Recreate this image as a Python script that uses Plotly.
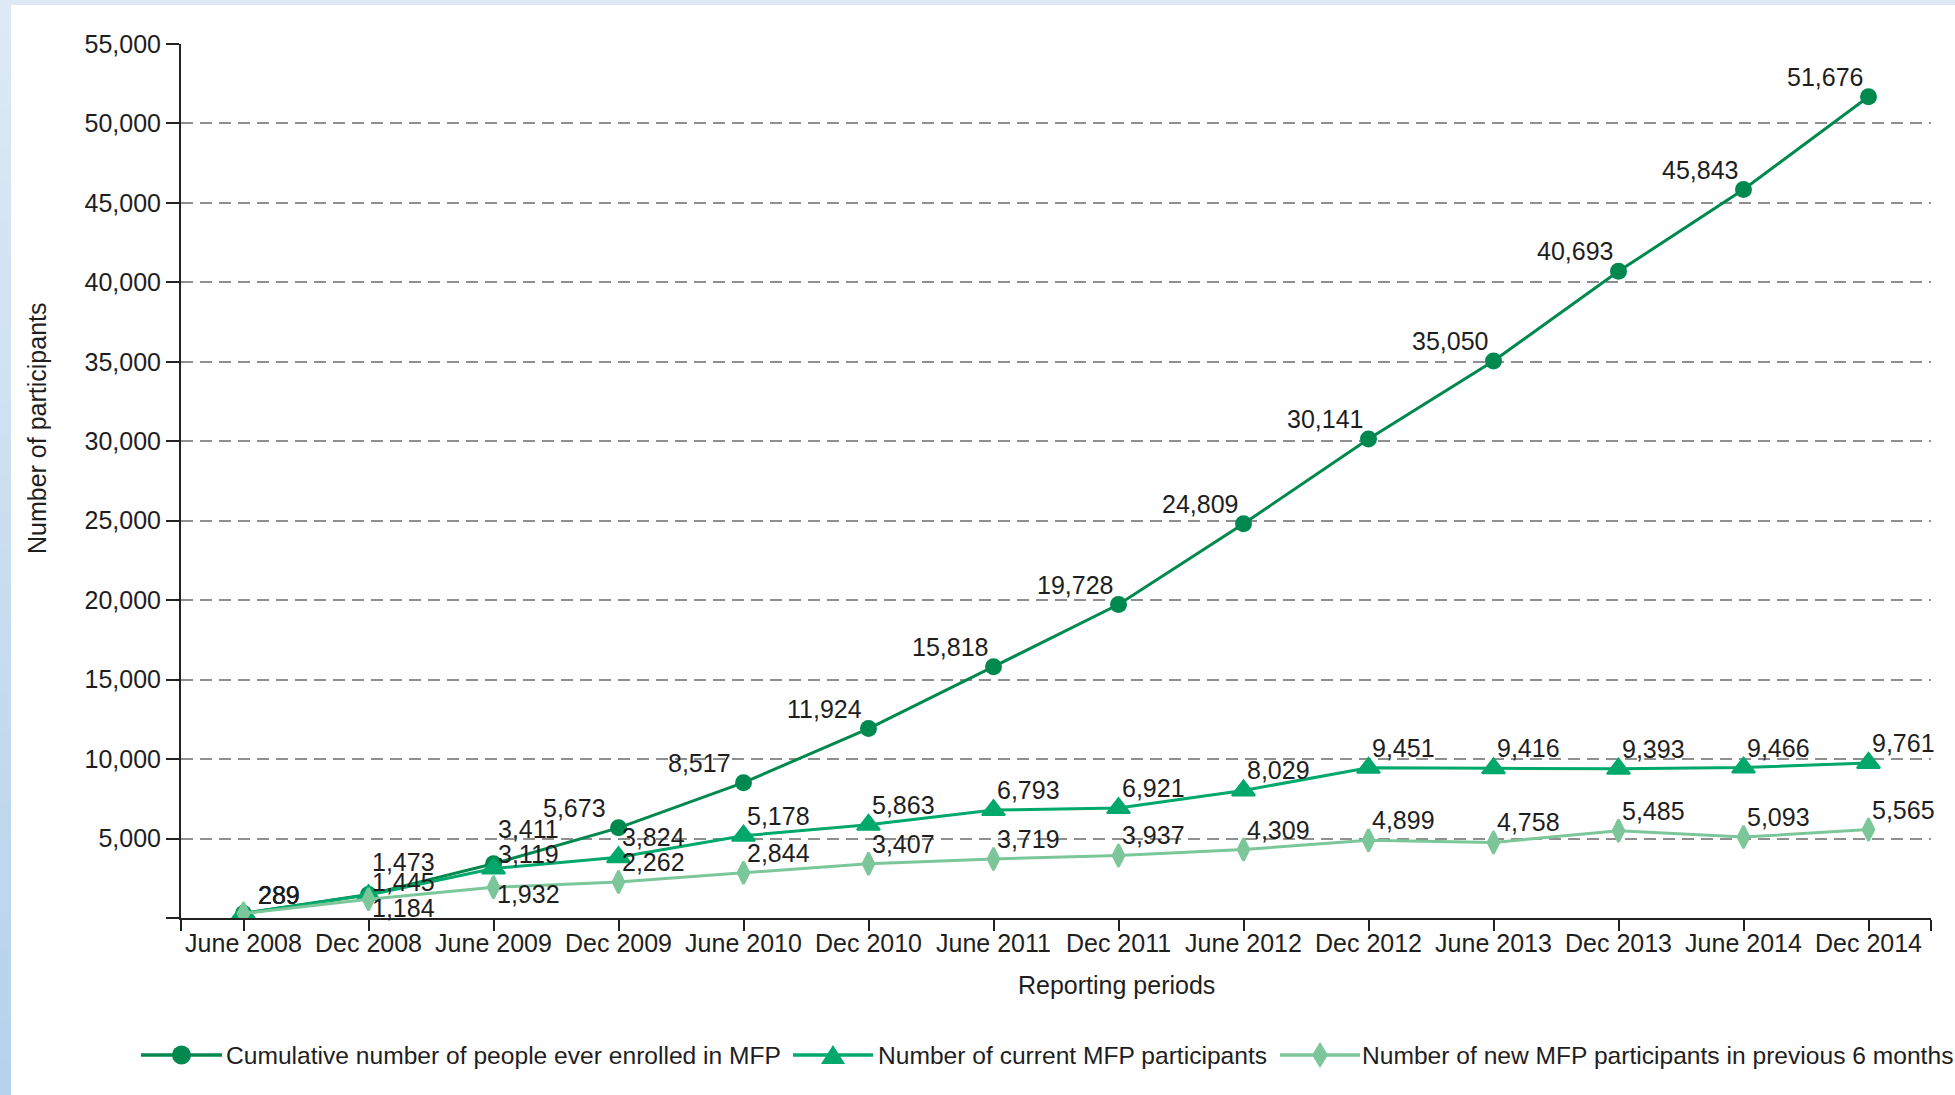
import plotly.graph_objects as go

# ---------------- data ----------------
periods = ["June 2008", "Dec 2008", "June 2009", "Dec 2009", "June 2010", "Dec 2010",
           "June 2011", "Dec 2011", "June 2012", "Dec 2012", "June 2013", "Dec 2013",
           "June 2014", "Dec 2014"]
cumulative_enrolled = [289, 1473, 3411, 5673, 8517, 11924, 15818, 19728, 24809, 30141,
                       35050, 40693, 45843, 51676]
current_participants = [289, 1445, 3119, 3824, 5178, 5863, 6793, 6921, 8029, 9451,
                        9416, 9393, 9466, 9761]
new_participants = [289, 1184, 1932, 2262, 2844, 3407, 3719, 3937, 4309, 4899,
                    4758, 5485, 5093, 5565]
y_tick_values = [0, 5000, 10000, 15000, 20000, 25000, 30000, 35000, 40000, 45000, 50000, 55000]
series_names = ["Cumulative number of people ever enrolled in MFP",
                "Number of current MFP participants",
                "Number of new MFP participants in previous 6 months"]

# ---------------- style ----------------
W, H = 1955, 1095
ML, MR, MT, MB = 181, 24, 44, 177
PW, PH = W - ML - MR, H - MT - MB
FONT = "Liberation Sans, Arial, sans-serif"
FS = 25
FS_LEG = 24.6
TXT = "#1E1E1E"
C_CUM, C_CUR, C_NEW = "#00894F", "#00A86B", "#7CC79A"


def px_x(px):
    return (px - ML) / PW


def px_y(py):
    return (H - MB - py) / PH


# label placement (pixel offsets) per point: side and vertical shift
cum_side = ["r", "r", "r"] + ["l"] * 11
cum_dy = [18, 33, 35] + [20] * 11
cur_side = ["r"] * 14
cur_dy = [18, 13, 14] + [20] * 11
new_side = ["r"] * 14
new_dy = [18, -9, -7] + [20] * 11

xs = list(range(len(periods)))

fig = go.Figure()
fig.add_trace(go.Scatter(x=xs, y=cumulative_enrolled, mode="lines+markers", name=series_names[0],
                         line=dict(color=C_CUM, width=3),
                         marker=dict(symbol="circle", size=17, color=C_CUM)))
fig.add_trace(go.Scatter(x=xs, y=current_participants, mode="lines+markers", name=series_names[1],
                         line=dict(color=C_CUR, width=3),
                         marker=dict(symbol="triangle-up", size=20, color=C_CUR,
                                     line=dict(color=C_CUR, width=2))))
fig.add_trace(go.Scatter(x=xs, y=new_participants, mode="lines+markers", name=series_names[2],
                         line=dict(color=C_NEW, width=3),
                         marker=dict(symbol="diamond-tall", size=16, color=C_NEW,
                                     line=dict(color=C_NEW, width=2.5))))

annotations = []
for vals, sides, dys in [(cumulative_enrolled, cum_side, cum_dy),
                         (current_participants, cur_side, cur_dy),
                         (new_participants, new_side, new_dy)]:
    for i, v in enumerate(vals):
        annotations.append(dict(x=xs[i], y=v, xref="x", yref="y", text=f"{v:,}",
                                showarrow=False, xanchor="center", yanchor="middle",
                                xshift=35 if sides[i] == "r" else -44, yshift=dys[i],
                                font=dict(family=FONT, size=FS, color=TXT)))

# axis titles
annotations.append(dict(x=px_x(1116), y=px_y(985), xref="paper", yref="paper",
                        text="Reporting periods", showarrow=False,
                        xanchor="center", yanchor="middle",
                        font=dict(family=FONT, size=FS, color=TXT)))
annotations.append(dict(x=px_x(37), y=px_y(428), xref="paper", yref="paper",
                        text="Number of participants", showarrow=False, textangle=-90,
                        xanchor="center", yanchor="middle",
                        font=dict(family=FONT, size=FS, color=TXT)))

shapes = []
# slide background strips
shapes.append(dict(type="rect", xref="paper", yref="paper", x0=px_x(0), x1=px_x(W),
                   y0=px_y(5), y1=px_y(0), fillcolor="#DDE9F5", line=dict(width=0), layer="above"))
steps = 30
c0 = (0xDD, 0xE9, 0xF5)
c1 = (0xB7, 0xD2, 0xEC)
for k in range(steps):
    t = k / (steps - 1)
    col = "#%02X%02X%02X" % tuple(int(round(a + (b - a) * t)) for a, b in zip(c0, c1))
    y_top = k * H / steps
    y_bot = (k + 1) * H / steps
    shapes.append(dict(type="rect", xref="paper", yref="paper", x0=px_x(0), x1=px_x(11),
                       y0=px_y(y_bot + 0.5), y1=px_y(y_top), fillcolor=col,
                       line=dict(width=0), layer="above"))

# manual legend
LEG_Y = 1055
leg_items = [
    (141, 222, C_CUM, "circle", 224),
    (793, 873, C_CUR, "triangle", 876),
    (1280, 1360, C_NEW, "diamond", 1360),
]
for (xa, xb, col, kind, xt), name in zip(leg_items, series_names):
    shapes.append(dict(type="line", xref="paper", yref="paper", x0=px_x(xa), x1=px_x(xb),
                       y0=px_y(LEG_Y), y1=px_y(LEG_Y), line=dict(color=col, width=3.5)))
    xm = px_x((xa + xb) / 2)
    ym = px_y(LEG_Y)
    if kind == "circle":
        shapes.append(dict(type="circle", xref="paper", yref="paper", xsizemode="pixel",
                           ysizemode="pixel", xanchor=xm, yanchor=ym, x0=-9.5, x1=9.5,
                           y0=-9.5, y1=9.5, fillcolor=col, line=dict(width=0)))
    elif kind == "triangle":
        shapes.append(dict(type="path", xref="paper", yref="paper", xsizemode="pixel",
                           ysizemode="pixel", xanchor=xm, yanchor=ym,
                           path="M-12,-9 L12,-9 L0,10 Z", fillcolor=col, line=dict(width=0)))
    else:
        shapes.append(dict(type="path", xref="paper", yref="paper", xsizemode="pixel",
                           ysizemode="pixel", xanchor=xm, yanchor=ym,
                           path="M0,13 L8,0 L0,-13 L-8,0 Z", fillcolor=col, line=dict(width=0)))
    annotations.append(dict(x=px_x(xt), y=px_y(LEG_Y), xref="paper", yref="paper",
                            text=name, showarrow=False, xanchor="left", yanchor="middle",
                            font=dict(family=FONT, size=FS_LEG, color=TXT)))

fig.update_layout(
    width=W, height=H,
    margin=dict(l=ML, r=MR, t=MT, b=MB, pad=0),
    paper_bgcolor="white", plot_bgcolor="white",
    showlegend=False,
    font=dict(family=FONT, size=FS, color=TXT),
    annotations=annotations, shapes=shapes,
    xaxis=dict(range=[-0.5, 13.5], tickmode="array",
               tickvals=[-0.5] + xs + [13.5], ticktext=[""] + periods + [""],
               showgrid=False, zeroline=False, showline=True, linecolor="#222222", linewidth=2,
               ticks="outside", ticklen=11, tickwidth=2, tickcolor="#222222",
               ticklabelstandoff=-9,
               tickfont=dict(family=FONT, size=FS, color=TXT), fixedrange=True),
    yaxis=dict(range=[0, 55000], tickmode="array", tickvals=y_tick_values,
               ticktext=["" if v == 0 else f"{v:,}" for v in y_tick_values],
               showgrid=True, gridcolor="#8F8F8F", gridwidth=1.8, griddash="12px,7px",
               zeroline=False, showline=True, linecolor="#222222", linewidth=2,
               ticks="outside", ticklen=13, tickwidth=2, tickcolor="#222222",
               ticklabelstandoff=0,
               tickfont=dict(family=FONT, size=FS, color=TXT), fixedrange=True),
)

fig.write_html("out.html", config={"displayModeBar": False})
